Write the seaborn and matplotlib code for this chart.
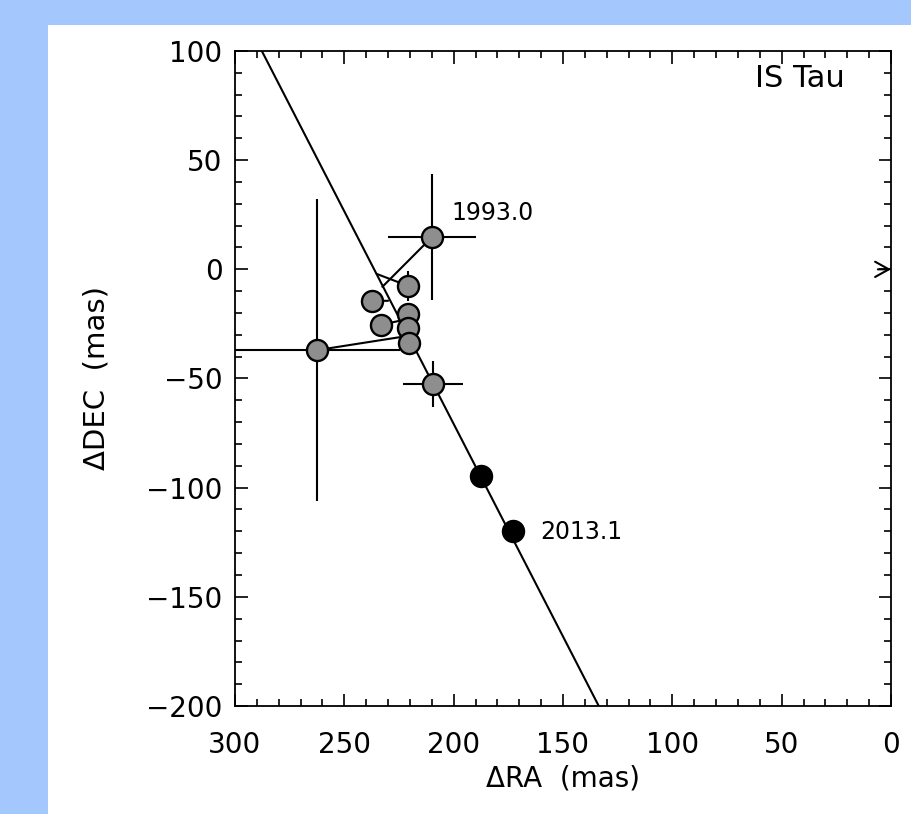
import matplotlib
matplotlib.use("Agg")
import matplotlib.pyplot as plt
import seaborn as sns
import pandas as pd
from matplotlib.patches import Rectangle

# ---- data ----
meas_ra = [209.9, 220.8, 237.5, 221.0, 233.4, 221.0, 220.3, 262.4, 209.6]
meas_dec = [14.8, -7.6, -14.5, -20.6, -25.5, -27.0, -33.9, -37.0, -52.5]
meas_ra_err = [20.0, 0.0, 0.0, 0.0, 0.0, 0.0, 0.0, 38.0, 13.7]
meas_dec_err = [29.0, 7.0, 0.0, 0.0, 0.0, 0.0, 0.0, 69.0, 10.7]
pred_ra = [232.6, 235.2, 230.0, 225.5, 224.5, 222.5, 218.9, 221.0, 209.4]
pred_dec = [-8.0, -2.1, -14.4, -21.0, -23.5, -27.5, -34.0, -30.5, -52.5]
new_ra = [187.5, 172.9]
new_dec = [-94.7, -119.9]
orbit_ra = [298.0, 128.0]
orbit_dec = [120.0, -211.0]
label_text = ["1993.0", "2013.1"]
label_ra = [201.0, 160.5]
label_dec = [25.8, -120.3]
title_text = "IS Tau"
xticks = [300, 250, 200, 150, 100, 50, 0]
yticks = [100, 50, 0, -50, -100, -150, -200]

sns.set_theme(style="ticks")
plt.rcParams["font.family"] = ["DejaVu Sans"]
plt.rcParams["text.color"] = "black"
plt.rcParams["axes.labelcolor"] = "black"
plt.rcParams["xtick.labelcolor"] = "black"
plt.rcParams["ytick.labelcolor"] = "black"

fig = plt.figure(figsize=(9.11, 8.14), dpi=100)
fig.patch.set_facecolor("#a4c7fd")
fig.patches.append(Rectangle((48 / 911, 0), 1, 1 - 25 / 814, transform=fig.transFigure,
                             facecolor="white", edgecolor="none", zorder=-10))
ax = fig.add_axes([235 / 911, 1 - 706 / 814, 656 / 911, 655 / 814])
ax.set_zorder(5)
ax.set_facecolor("white")

# orbit line
sns.lineplot(x=orbit_ra, y=orbit_dec, ax=ax, color="black", lw=1.5, sort=False, zorder=2)

# connecting lines measurement -> predicted
for mx, my, px, py in zip(meas_ra, meas_dec, pred_ra, pred_dec):
    ax.plot([mx, px], [my, py], color="black", lw=1.5, zorder=2)

# error bars
ax.errorbar(meas_ra, meas_dec, xerr=meas_ra_err, yerr=meas_dec_err, fmt="none",
            ecolor="black", elinewidth=1.5, capsize=0, zorder=2)

df = pd.DataFrame({"ra": meas_ra, "dec": meas_dec})
sns.scatterplot(data=df, x="ra", y="dec", ax=ax, s=230, color="#8e8e8e",
                edgecolor="black", linewidth=1.7, zorder=3)
df2 = pd.DataFrame({"ra": new_ra, "dec": new_dec})
sns.scatterplot(data=df2, x="ra", y="dec", ax=ax, s=230, color="black",
                edgecolor="black", linewidth=1.7, zorder=3)

for t, x, y in zip(label_text, label_ra, label_dec):
    ax.text(x, y, t, fontsize=17, va="center", ha="left", color="black")
ax.text(21, 87.6, title_text, fontsize=22, va="center", ha="right", color="black")

# arrow towards primary at origin
ax.annotate("", xy=(0, 0), xytext=(6, 0),
            arrowprops=dict(arrowstyle="->,head_length=0.45,head_width=0.25",
                            color="black", lw=1.5, mutation_scale=22,
                            shrinkA=0, shrinkB=0),
            annotation_clip=False)

ax.set_xlim(300, 0)
ax.set_ylim(-200, 100)
ax.set_xticks(xticks)
ax.set_yticks(yticks)
ax.set_xticks(range(0, 301, 10), minor=True)
ax.set_yticks(range(-200, 101, 10), minor=True)
ax.tick_params(which="both", direction="in", top=True, right=True, width=1.2,
               labelsize=20, color="black")
ax.tick_params(which="major", length=9)
ax.tick_params(which="minor", length=5)
ax.tick_params(axis="x", which="major", pad=18)
ax.tick_params(axis="y", which="major", pad=9)
for s in ax.spines.values():
    s.set_visible(True)
    s.set_linewidth(1.3)
    s.set_color("black")
ax.set_xlabel("ΔRA  (mas)", fontsize=20, labelpad=4)
ax.set_ylabel("ΔDEC  (mas)", fontsize=21, labelpad=26)
ax.grid(False)

fig.savefig("out.png", dpi=100, facecolor=fig.get_facecolor())
